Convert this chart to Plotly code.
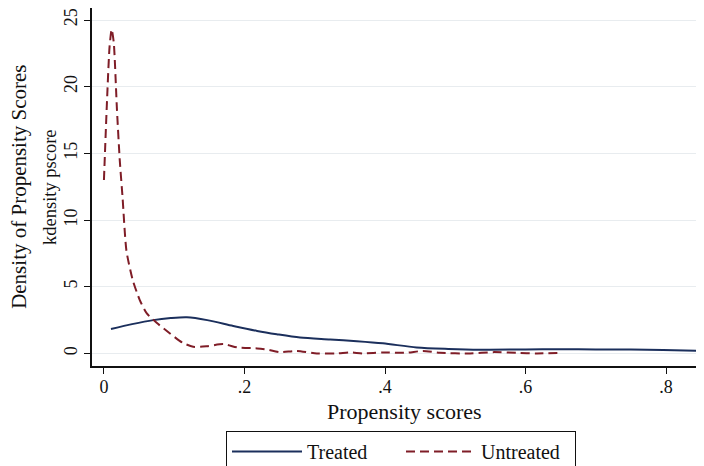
import plotly.graph_objects as go

# Treated kernel density (solid navy)
treated_x = [0.01, 0.04, 0.07, 0.095, 0.118, 0.147, 0.184, 0.218, 0.246, 0.279, 0.322,
             0.36, 0.397, 0.445, 0.49, 0.535, 0.6, 0.65, 0.70, 0.75, 0.796, 0.848]
treated_y = [1.84, 2.2, 2.5, 2.65, 2.71, 2.5, 2.06, 1.69, 1.44, 1.19, 1.05,
             0.92, 0.76, 0.45, 0.34, 0.28, 0.3, 0.32, 0.3, 0.29, 0.26, 0.19]

# Untreated kernel density (dashed maroon)
untreated_x = [0.0, 0.004, 0.008, 0.011, 0.014, 0.0185, 0.0225, 0.0265, 0.032, 0.041,
               0.051, 0.061, 0.075, 0.094, 0.112, 0.127, 0.147, 0.17, 0.19, 0.218,
               0.232, 0.25, 0.274, 0.303, 0.332, 0.35, 0.369, 0.397, 0.43, 0.454,
               0.478, 0.521, 0.554, 0.587, 0.616, 0.652]
untreated_y = [13.0, 18.5, 23.0, 24.3, 23.3, 18.3, 14.5, 11.7, 7.7, 5.5,
               4.0, 3.0, 2.3, 1.5, 0.8, 0.5, 0.55, 0.7, 0.45, 0.38,
               0.3, 0.1, 0.19, 0.0, 0.0, 0.08, 0.0, 0.07, 0.05, 0.19,
               0.05, 0.0, 0.1, 0.05, 0.0, 0.05]

x_ticks = [0, 0.2, 0.4, 0.6, 0.8]
x_tick_labels = ["0", ".2", ".4", ".6", ".8"]
y_ticks = [0, 5, 10, 15, 20, 25]
y_tick_labels = ["0", "5", "10", "15", "20", "25"]

FONT = "Liberation Serif"
NAVY = "#1b2f5c"
MAROON = "#7f1d27"

fig = go.Figure()
fig.add_trace(go.Scatter(x=treated_x, y=treated_y, mode="lines", name="Treated",
                         line=dict(color=NAVY, width=2, shape="spline", smoothing=0.8)))
fig.add_trace(go.Scatter(x=untreated_x, y=untreated_y, mode="lines", name="Untreated",
                         line=dict(color=MAROON, width=2, dash="9px,5px",
                                   shape="spline", smoothing=0.6)))

# page has an 8px body margin, so the figure is 8px smaller and shifted
fig.update_layout(
    width=696, height=458,
    margin=dict(l=84, r=0, t=0, b=100, autoexpand=False),
    paper_bgcolor="white", plot_bgcolor="white",
    font=dict(family=FONT, color="#111111", size=17),
    showlegend=True,
    legend=dict(orientation="h", xref="container", yref="container",
                x=218 / 696, xanchor="left", y=1 - 423 / 458, yanchor="top",
                bordercolor="#111111", borderwidth=1, bgcolor="white",
                font=dict(family=FONT, size=20), itemwidth=70,
                entrywidth=89, traceorder="normal"),
    xaxis=dict(range=[-0.017, 0.854], tickvals=x_ticks, ticktext=x_tick_labels,
               showgrid=False, zeroline=False, showline=True, linecolor="#111111",
               linewidth=1.5, ticks="outside", ticklen=6, tickcolor="#111111",
               tickfont=dict(size=18), ticklabelstandoff=-2),
    yaxis=dict(range=[-0.94, 25.9], tickvals=y_ticks, ticktext=y_tick_labels,
               showgrid=True, gridcolor="#e8ecef", gridwidth=1, zeroline=False,
               showline=True, linecolor="#111111", linewidth=1.5, ticks="outside",
               ticklen=6, tickcolor="#111111", tickangle=-90, tickfont=dict(size=18)),
    annotations=[
        dict(text="Density of Propensity Scores", xref="paper", yref="paper",
             x=-0.1195, y=0.5, xanchor="center", yanchor="middle", textangle=-90,
             showarrow=False, font=dict(family=FONT, size=21)),
        dict(text="kdensity pscore", xref="paper", yref="paper",
             x=-0.0686, y=0.5, xanchor="center", yanchor="middle", textangle=-90,
             showarrow=False, font=dict(family=FONT, size=18.5)),
        dict(text="Propensity scores", xref="paper", yref="paper",
             x=0.51, y=-0.127, xanchor="center", yanchor="middle",
             showarrow=False, font=dict(family=FONT, size=22)),
    ],
)

fig.write_html("out.html")
